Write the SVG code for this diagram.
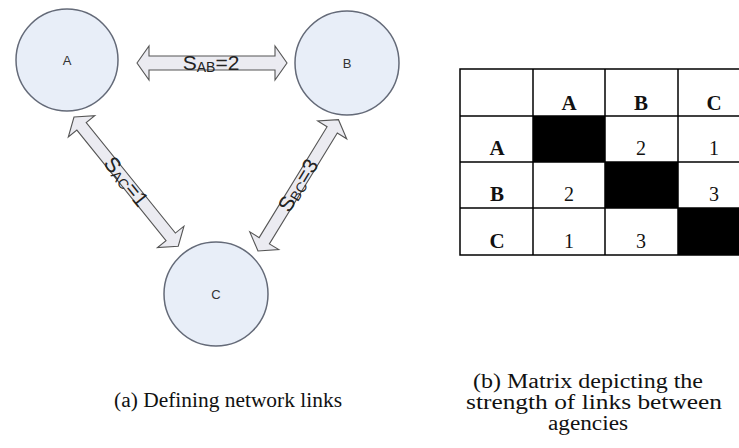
<svg xmlns="http://www.w3.org/2000/svg" width="739" height="448" viewBox="0 0 739 448">
  <style>
    .node { fill: #e8eef8; stroke: #646a78; stroke-width: 1.5; }
    .ntext { font-family: "Liberation Sans", Arial, sans-serif; font-size: 13px; fill: #333; text-anchor: middle; }
    .arrow { fill: #ebebf1; stroke: #555; stroke-width: 1.1; stroke-linejoin: miter; }
    .lbl { font-family: "Liberation Sans", Arial, sans-serif; font-size: 21px; fill: #222; text-anchor: middle; }
    .sub { font-size: 14px; }
    .grid { fill: none; stroke: #000; stroke-width: 1.5; }
    .blk { fill: #000; }
    .th { font-family: "Liberation Serif", "Times New Roman", serif; font-size: 21px; font-weight: bold; fill: #111; text-anchor: middle; }
    .td { font-family: "Liberation Serif", "Times New Roman", serif; font-size: 20px; fill: #111; text-anchor: middle; }
    .cap { font-family: "Liberation Serif", "Times New Roman", serif; font-size: 20px; fill: #111; text-anchor: middle; }
  </style>
  <rect width="739" height="448" fill="#fff"/>

  <g id="connectors">
    <g id="link-AB" transform="translate(137,63)">
      <polygon class="arrow" points="0,0 12,-17 12,-7 138,-7 138,-17 150,0 138,17 138,7 12,7 12,17"/>
      <text class="lbl" x="74" y="7">S<tspan class="sub" dy="1.5">AB</tspan><tspan dy="-1.5">=2</tspan></text>
    </g>
    <g id="link-AC" transform="translate(74,117) rotate(51.1)">
      <polygon class="arrow" points="0,0 12,-17 12,-6 154,-6 154,-17 166,0 154,17 154,6 12,6 12,17"/>
      <text class="lbl" x="83" y="7">S<tspan class="sub" dy="1.5">AC</tspan><tspan dy="-1.5">=1</tspan></text>
    </g>
    <g id="link-BC" transform="translate(258,251) rotate(-58.5)">
      <polygon class="arrow" points="0,0 12,-17 12,-6 142,-6 142,-17 154,0 142,17 142,6 12,6 12,17"/>
      <text class="lbl" x="77" y="7">S<tspan class="sub" dy="1.5">BC</tspan><tspan dy="-1.5">=3</tspan></text>
    </g>
  </g>

  <g id="node-A">
    <circle class="node" cx="67" cy="60" r="51"/>
    <text class="ntext" x="67" y="65">A</text>
  </g>
  <g id="node-B">
    <circle class="node" cx="347" cy="63" r="52"/>
    <text class="ntext" x="347" y="68">B</text>
  </g>
  <g id="node-C">
    <circle class="node" cx="216" cy="294" r="52"/>
    <text class="ntext" x="216" y="299">C</text>
  </g>

  <g id="matrix">
    <rect class="blk" x="533" y="116" width="72" height="46"/>
    <rect class="blk" x="605" y="162" width="73" height="46"/>
    <rect class="blk" x="678" y="208" width="73" height="47"/>
    <rect class="grid" x="460" y="69" width="291" height="186"/>
    <line class="grid" x1="533" y1="69" x2="533" y2="255"/>
    <line class="grid" x1="605" y1="69" x2="605" y2="255"/>
    <line class="grid" x1="678" y1="69" x2="678" y2="255"/>
    <line class="grid" x1="460" y1="116" x2="751" y2="116"/>
    <line class="grid" x1="460" y1="162" x2="751" y2="162"/>
    <line class="grid" x1="460" y1="208" x2="751" y2="208"/>
    <text class="th" x="569" y="110">A</text>
    <text class="th" x="641" y="110">B</text>
    <text class="th" x="714" y="110">C</text>
    <text class="th" x="497" y="155">A</text>
    <text class="th" x="497" y="201">B</text>
    <text class="th" x="497" y="248">C</text>
    <text class="td" x="641" y="155">2</text>
    <text class="td" x="714" y="155">1</text>
    <text class="td" x="569" y="201">2</text>
    <text class="td" x="714" y="201">3</text>
    <text class="td" x="569" y="248">1</text>
    <text class="td" x="641" y="248">3</text>
  </g>

  <g id="captions">
    <text class="cap" x="228" y="407" textLength="228" lengthAdjust="spacingAndGlyphs">(a) Defining network links</text>
    <text class="cap" x="588" y="388" textLength="230" lengthAdjust="spacingAndGlyphs">(b) Matrix depicting the</text>
    <text class="cap" x="594" y="409" textLength="256" lengthAdjust="spacingAndGlyphs">strength of links between</text>
    <text class="cap" x="588" y="430" textLength="80" lengthAdjust="spacingAndGlyphs">agencies</text>
  </g>
</svg>
